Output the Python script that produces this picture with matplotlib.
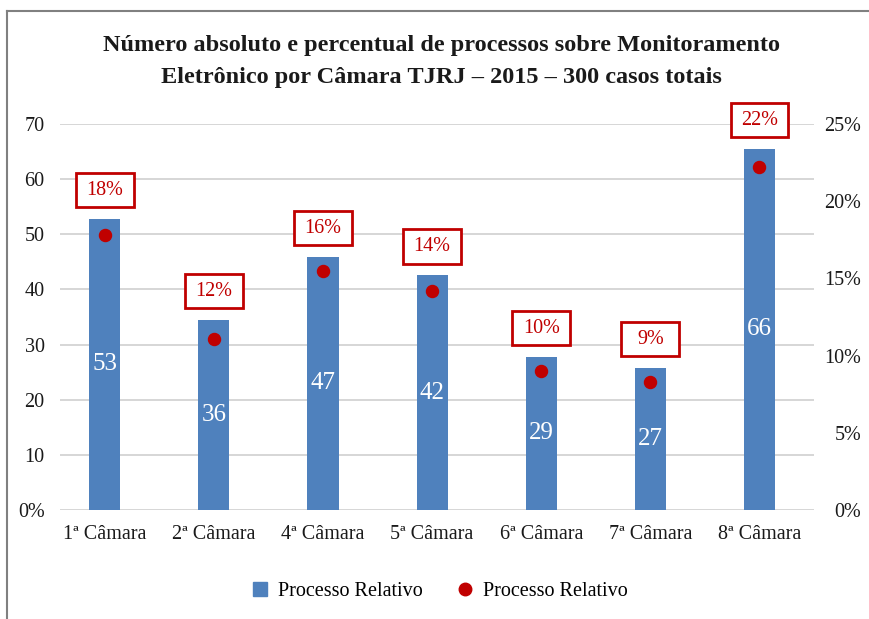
import matplotlib.pyplot as plt
from matplotlib.lines import Line2D
from matplotlib.patches import Rectangle

camaras = ['1ª Câmara', '2ª Câmara', '4ª Câmara', '5ª Câmara', '6ª Câmara', '7ª Câmara', '8ª Câmara']
bar_heights = [52.8, 34.5, 45.9, 42.6, 27.8, 25.8, 65.5]
bar_labels = ['53', '36', '47', '42', '29', '27', '66']
pct_points = [0.178, 0.111, 0.155, 0.142, 0.090, 0.083, 0.222]
pct_labels = ['18%', '12%', '16%', '14%', '10%', '9%', '22%']
left_ticks = [0, 10, 20, 30, 40, 50, 60, 70]
left_ticklabels = ['0%', '10', '20', '30', '40', '50', '60', '70']
right_ticks = [0, 0.05, 0.10, 0.15, 0.20, 0.25]
right_ticklabels = ['0%', '5%', '10%', '15%', '20%', '25%']

blue = '#4F81BD'
red = '#C00000'
plt.rcParams['font.family'] = ['Liberation Serif', 'DejaVu Serif']

fig = plt.figure(figsize=(8.69, 6.19), dpi=100)
ax = fig.add_axes([60 / 869, 1 - 510 / 619, 754 / 869, 386 / 619])
ax2 = ax.twinx()

x = list(range(len(camaras)))
ax.bar(x, bar_heights, width=0.285, color=blue, zorder=2)
ax.set_ylim(0, 70)
ax.set_xlim(-0.41, 6.5)
ax.set_yticks(left_ticks)
ax.set_yticklabels(left_ticklabels)
ax.set_xticks(x)
ax.set_xticklabels(camaras)
ax.grid(axis='y', color='#CFCFCF', linewidth=1.2, zorder=0)
ax.set_axisbelow(True)
ax.tick_params(length=0, labelsize=14.5, colors='#1a1a1a')
ax.tick_params(axis='y', pad=11)
ax.tick_params(axis='x', pad=11)
for s in ax.spines.values():
    s.set_visible(False)
for s in ax2.spines.values():
    s.set_visible(False)

# white value labels inside bars
for xi, h, lab in zip(x, bar_heights, bar_labels):
    ax.text(xi, h / 2, lab, color='white', fontsize=18, ha='center', va='center', zorder=3)

# red boxed percent labels above bars
box_w, box_h = 0.53, 6.2
for xi, h, lab in zip(x, bar_heights, pct_labels):
    cy = h + 5.2
    ax.add_patch(Rectangle((xi - box_w / 2, cy - box_h / 2), box_w, box_h, facecolor='white',
                           edgecolor=red, linewidth=2, zorder=4, clip_on=False))
    ax.text(xi, cy, lab, color=red, fontsize=14.5, ha='center', va='center', zorder=5)

ax2.scatter(x, pct_points, s=75, color=red, zorder=3)
ax2.set_ylim(0, 0.25)
ax2.set_yticks(right_ticks)
ax2.set_yticklabels(right_ticklabels, ha='right')
ax2.tick_params(length=0, labelsize=14.5, colors='#1a1a1a', pad=34)

fig.text(0.508, 1 - 46 / 619, 'Número absoluto e percentual de processos sobre Monitoramento',
         ha='center', va='center', fontsize=17.5, fontweight='bold', color='#1a1a1a')
fig.text(0.508, 1 - 77 / 619, 'Eletrônico por Câmara TJRJ – 2015 – 300 casos totais',
         ha='center', va='center', fontsize=17.5, fontweight='bold', color='#1a1a1a')

handles = [Line2D([], [], marker='s', linestyle='none', color=blue, markersize=10),
           Line2D([], [], marker='o', linestyle='none', color=red, markersize=9)]
fig.legend(handles, ['Processo Relativo', 'Processo Relativo'], loc='center',
           bbox_to_anchor=(0.505, 1 - 591 / 619), ncol=2, frameon=False, fontsize=14.5,
           handlelength=1.0, handletextpad=0.4, columnspacing=1.6)

# outer frame (top and left edges)
fig.add_artist(Line2D([7 / 869, 7 / 869], [0, 1 - 11 / 619], color='#808080', linewidth=1.5))
fig.add_artist(Line2D([7 / 869, 1], [1 - 11 / 619, 1 - 11 / 619], color='#808080', linewidth=1.5))

plt.savefig('out.png')
